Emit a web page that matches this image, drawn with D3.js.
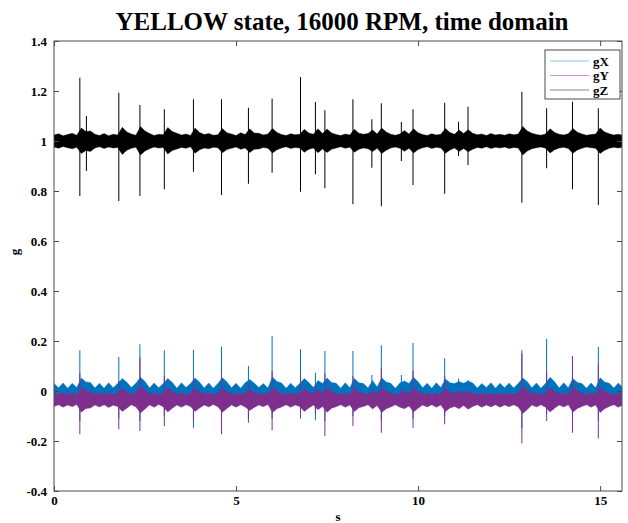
<!DOCTYPE html>
<html>
<head>
<meta charset="utf-8">
<script src="https://cdn.jsdelivr.net/npm/d3@7"></script>
<style>
  html, body { margin: 0; padding: 0; background: #fff; }
  svg { display: block; }
  text { font-family: "Liberation Serif", "Times New Roman", serif; font-weight: bold; fill: #000; }
</style>
</head>
<body>
<svg id="chart" width="628" height="523"></svg>
<script>
// Accelerometer trace, sampled as min/max envelope per 0.125 s bin
const binStep = 0.125;

const gZHigh = [
  1.024,1.029,1.021,1.026,1.031,1.023,1.052,1.038,1.040,1.027,
  1.022,1.030,1.021,1.027,1.024,1.055,1.036,1.028,1.023,1.058,
  1.040,1.030,1.022,1.027,1.025,1.054,1.038,1.031,1.024,1.028,
  1.022,1.052,1.034,1.026,1.030,1.023,1.025,1.050,1.033,1.028,
  1.022,1.033,1.026,1.048,1.032,1.031,1.024,1.028,1.050,1.034,
  1.026,1.022,1.029,1.025,1.027,1.047,1.032,1.027,1.049,1.030,
  1.048,1.032,1.026,1.022,1.028,1.024,1.047,1.031,1.027,1.030,
  1.044,1.028,1.052,1.036,1.027,1.023,1.028,1.042,1.028,1.049,
  1.033,1.026,1.022,1.029,1.024,1.027,1.050,1.034,1.027,1.044,
  1.030,1.045,1.031,1.025,1.028,1.022,1.030,1.024,1.027,1.023,
  1.029,1.025,1.028,1.058,1.040,1.031,1.026,1.023,1.028,1.049,
  1.034,1.027,1.024,1.029,1.050,1.035,1.028,1.023,1.026,1.028,
  1.052,1.036,1.029,1.024,1.027,1.023
];
const gZLow = [
  0.976,0.971,0.978,0.973,0.969,0.975,0.950,0.962,0.958,0.972,
  0.977,0.970,0.976,0.972,0.974,0.946,0.963,0.971,0.975,0.944,
  0.960,0.969,0.976,0.972,0.974,0.948,0.962,0.968,0.974,0.971,
  0.977,0.951,0.965,0.972,0.969,0.975,0.973,0.953,0.966,0.971,
  0.976,0.967,0.972,0.954,0.967,0.968,0.974,0.971,0.952,0.965,
  0.972,0.977,0.970,0.974,0.972,0.955,0.967,0.972,0.953,0.968,
  0.954,0.967,0.972,0.977,0.971,0.975,0.955,0.967,0.972,0.969,
  0.958,0.971,0.950,0.963,0.972,0.976,0.971,0.959,0.971,0.952,
  0.966,0.973,0.977,0.970,0.975,0.972,0.951,0.964,0.972,0.958,
  0.970,0.957,0.967,0.974,0.971,0.977,0.970,0.975,0.972,0.976,
  0.970,0.974,0.972,0.944,0.960,0.969,0.973,0.976,0.971,0.952,
  0.965,0.972,0.975,0.970,0.951,0.964,0.971,0.976,0.973,0.971,
  0.950,0.963,0.971,0.975,0.972,0.976
];
const gXHigh = [
  .030,.013,.032,.011,.031,.014,.052,.036,.034,.012,
  .031,.011,.033,.013,.030,.050,.035,.014,.031,.055,
  .038,.012,.032,.013,.030,.050,.034,.011,.033,.014,
  .030,.052,.035,.012,.032,.011,.030,.053,.036,.013,
  .031,.011,.033,.046,.032,.014,.030,.012,.056,.038,
  .032,.011,.031,.013,.030,.050,.034,.014,.042,.030,
  .052,.034,.031,.011,.033,.013,.050,.033,.030,.012,
  .042,.016,.053,.036,.031,.011,.032,.040,.030,.055,
  .037,.013,.031,.011,.033,.014,.048,.033,.030,.038,
  .031,.040,.032,.012,.030,.014,.033,.011,.031,.013,
  .032,.012,.030,.052,.037,.013,.032,.011,.031,.055,
  .037,.012,.033,.013,.050,.034,.030,.011,.032,.013,
  .053,.036,.031,.012,.032,.013
];
const gXLow = [
  -.018,-.022,-.017,-.021,-.019,-.023,-.040,-.030,-.028,-.020,
  -.018,-.022,-.019,-.021,-.017,-.038,-.028,-.020,-.018,-.042,
  -.030,-.021,-.018,-.022,-.019,-.036,-.028,-.020,-.018,-.023,
  -.019,-.037,-.027,-.020,-.018,-.022,-.019,-.039,-.029,-.021,
  -.018,-.022,-.019,-.034,-.026,-.020,-.018,-.022,-.040,-.030,
  -.019,-.021,-.018,-.022,-.019,-.036,-.027,-.020,-.032,-.024,
  -.038,-.028,-.019,-.022,-.018,-.021,-.036,-.026,-.019,-.022,
  -.030,-.021,-.040,-.030,-.019,-.022,-.018,-.030,-.020,-.039,
  -.029,-.021,-.018,-.022,-.019,-.021,-.036,-.027,-.019,-.030,
  -.021,-.031,-.020,-.018,-.022,-.019,-.021,-.018,-.022,-.019,
  -.021,-.018,-.022,-.042,-.031,-.020,-.018,-.022,-.019,-.038,
  -.029,-.021,-.018,-.022,-.037,-.028,-.020,-.018,-.022,-.019,
  -.039,-.030,-.021,-.018,-.022,-.019
];
const gYHigh = [
  -.010,-.014,-.008,-.013,-.009,-.015,.015,.000,-.004,-.012,
  -.009,-.014,-.008,-.013,-.010,.010,-.004,-.012,-.009,.020,
  .004,-.011,-.009,-.014,-.010,.012,-.002,-.012,-.008,-.014,
  -.010,.010,-.003,-.012,-.009,-.014,-.010,.012,-.002,-.013,
  -.009,-.014,-.008,.006,-.006,-.013,-.009,-.014,.014,.000,
  -.010,-.014,-.009,-.013,-.010,.010,-.004,-.012,.004,-.008,
  .012,-.002,-.010,-.014,-.009,-.013,.010,-.004,-.010,-.014,
  -.002,-.011,.012,.000,-.010,-.014,-.009,.000,-.011,.012,
  -.002,-.012,-.009,-.014,-.010,-.013,.010,-.004,-.010,.000,
  -.012,.002,-.010,-.014,-.009,-.013,-.010,-.014,-.009,-.013,
  -.010,-.014,-.009,.020,.004,-.011,-.009,-.014,-.010,.012,
  -.002,-.012,-.009,-.014,.014,.002,-.010,-.014,-.009,-.013,
  .012,.000,-.010,-.014,-.009,-.013
];
const gYLow = [
  -.062,-.055,-.065,-.056,-.063,-.054,-.085,-.070,-.068,-.056,
  -.064,-.055,-.066,-.057,-.062,-.082,-.069,-.055,-.064,-.088,
  -.072,-.056,-.065,-.054,-.063,-.084,-.069,-.056,-.065,-.055,
  -.062,-.082,-.068,-.056,-.064,-.054,-.063,-.085,-.070,-.056,
  -.065,-.055,-.064,-.078,-.066,-.056,-.063,-.054,-.086,-.071,
  -.064,-.055,-.065,-.056,-.062,-.082,-.068,-.056,-.075,-.062,
  -.085,-.069,-.063,-.055,-.065,-.056,-.082,-.067,-.062,-.055,
  -.072,-.058,-.086,-.071,-.064,-.055,-.065,-.071,-.060,-.084,
  -.069,-.056,-.064,-.055,-.065,-.056,-.082,-.068,-.062,-.071,
  -.058,-.073,-.062,-.055,-.065,-.056,-.064,-.055,-.065,-.056,
  -.063,-.055,-.064,-.090,-.074,-.056,-.064,-.055,-.065,-.084,
  -.069,-.056,-.064,-.055,-.085,-.070,-.062,-.055,-.065,-.056,
  -.086,-.071,-.062,-.055,-.065,-.056
];

// Impact transients: onset time and peak excursions per axis
const spikeTimes = [0.71,0.89,1.78,2.36,3.03,3.83,4.60,5.34,5.99,6.77,7.18,7.44,
                    8.21,8.73,8.99,9.54,9.86,10.73,11.11,11.37,12.85,13.53,14.24,14.95];
const zPeakHigh  = [1.253,1.100,1.193,1.144,1.127,1.167,1.167,1.133,1.170,1.256,1.156,1.123,
                    1.167,1.087,1.151,1.076,1.127,1.153,1.077,1.137,1.197,1.131,1.157,1.131];
const zPeakLow   = [0.780,0.880,0.760,0.780,0.807,0.877,0.784,0.829,0.873,0.797,0.867,0.811,
                    0.747,0.893,0.739,0.920,0.824,0.789,0.940,0.904,0.753,0.891,0.807,0.744];
const xPeakHigh  = [0.163,0.030,0.136,0.187,0.163,0.165,0.177,0.100,0.220,0.167,0.073,0.160,
                    0.160,0.064,0.183,0.064,0.192,0.131,0.050,0.043,0.163,0.209,0.140,0.176];
const xPeakLow   = [-0.120,-0.030,-0.110,-0.120,-0.100,-0.147,-0.120,-0.127,-0.110,-0.090,-0.117,-0.120,
                    -0.100,-0.035,-0.120,-0.030,-0.110,-0.100,-0.030,-0.030,-0.150,-0.090,-0.110,-0.120];
const yPeakHigh  = [0.073,0.000,0.040,0.133,0.060,0.050,0.070,0.030,0.080,0.060,0.020,0.070,
                    0.060,0.010,0.090,0.010,0.080,0.060,0.000,0.000,0.150,0.080,0.140,0.110];
const yPeakLow   = [-0.173,-0.070,-0.153,-0.160,-0.140,-0.120,-0.173,-0.110,-0.157,-0.110,-0.090,-0.180,
                    -0.140,-0.040,-0.167,-0.050,-0.147,-0.133,-0.060,-0.070,-0.210,-0.120,-0.167,-0.190];

const xTicks = [0, 5, 10, 15];
const yTicks = [-0.4, -0.2, 0, 0.2, 0.4, 0.6, 0.8, 1, 1.2, 1.4];
const seriesNames = ["gX", "gY", "gZ"];

// ---- layout ----
const svg = d3.select("#chart");
const plot = { left: 54, right: 622, top: 41, bottom: 491 };

const x = d3.scaleLinear().domain([0, 15.6]).range([plot.left, plot.right]);
const y = d3.scaleLinear().domain([-0.4, 1.4]).range([plot.bottom, plot.top]);

const colors = { gX: "#0072BD", gY: "#7E2F8E", gZ: "#000000" };
const legendColors = { gX: "#8cc4e6", gY: "#d68fdc", gZ: "#8a8a8a" };

svg.append("defs").append("clipPath").attr("id", "plotClip")
  .append("rect")
  .attr("x", plot.left).attr("y", plot.top)
  .attr("width", plot.right - plot.left).attr("height", plot.bottom - plot.top);

const layer = svg.append("g").attr("clip-path", "url(#plotClip)");

function envelope(hi, lo) {
  return hi.map((h, i) => ({ t: i * binStep, hi: h, lo: lo[i] }));
}
const band = d3.area()
  .x(d => x(d.t))
  .y0(d => y(d.lo))
  .y1(d => y(d.hi));

const series = [
  { name: "gX", env: envelope(gXHigh, gXLow), hi: xPeakHigh, lo: xPeakLow },
  { name: "gY", env: envelope(gYHigh, gYLow), hi: yPeakHigh, lo: yPeakLow },
  { name: "gZ", env: envelope(gZHigh, gZLow), hi: zPeakHigh, lo: zPeakLow }
];

series.forEach(s => {
  const g = layer.append("g").attr("class", "trace-" + s.name);
  g.append("path")
    .datum(s.env)
    .attr("d", band)
    .attr("fill", colors[s.name])
    .attr("stroke", colors[s.name])
    .attr("stroke-width", 0.4);
  g.selectAll("line.spike")
    .data(spikeTimes.map((t, i) => ({ t, hi: s.hi[i], lo: s.lo[i] })))
    .join("line")
    .attr("class", "spike")
    .attr("x1", d => x(d.t)).attr("x2", d => x(d.t))
    .attr("y1", d => y(d.hi)).attr("y2", d => y(d.lo))
    .attr("stroke", colors[s.name])
    .attr("stroke-width", 1);
});

// ---- axes box with inward ticks on all four sides ----
const axisColor = "#4a4a4a";
const tickLen = 5;
const axes = svg.append("g");

axes.append("rect")
  .attr("x", plot.left).attr("y", plot.top)
  .attr("width", plot.right - plot.left).attr("height", plot.bottom - plot.top)
  .attr("fill", "none").attr("stroke", axisColor).attr("stroke-width", 1);

const bottomAxis = d3.axisBottom(x).tickValues(xTicks).tickSize(-tickLen).tickPadding(5).tickFormat(d3.format("d"));
const topAxis = d3.axisTop(x).tickValues(xTicks).tickSize(-tickLen).tickFormat("");
const leftAxis = d3.axisLeft(y).tickValues(yTicks).tickSize(-tickLen).tickPadding(7).tickFormat(d => String(+d.toFixed(1)));
const rightAxis = d3.axisRight(y).tickValues(yTicks).tickSize(-tickLen).tickFormat("");

function styleAxis(sel) {
  sel.select(".domain").remove();
  sel.selectAll(".tick line").attr("stroke", axisColor);
  sel.selectAll(".tick text")
    .attr("font-family", "'Liberation Serif', 'Times New Roman', serif")
    .attr("font-weight", "bold")
    .attr("font-size", 13)
    .attr("fill", "#000");
}

axes.append("g").attr("transform", `translate(0,${plot.bottom})`).call(bottomAxis).call(styleAxis);
axes.append("g").attr("transform", `translate(0,${plot.top})`).call(topAxis).call(styleAxis);
axes.append("g").attr("transform", `translate(${plot.left},0)`).call(leftAxis).call(styleAxis);
axes.append("g").attr("transform", `translate(${plot.right},0)`).call(rightAxis).call(styleAxis);

// ---- labels ----
svg.append("text")
  .attr("x", 342).attr("y", 30)
  .attr("text-anchor", "middle")
  .attr("font-size", 25)
  .text("YELLOW state, 16000 RPM, time domain");

svg.append("text")
  .attr("x", 338).attr("y", 521)
  .attr("text-anchor", "middle")
  .attr("font-size", 13)
  .text("s");

svg.append("text")
  .attr("transform", "translate(19,252) rotate(-90)")
  .attr("text-anchor", "middle")
  .attr("font-size", 13)
  .text("g");

// ---- legend ----
const legend = svg.append("g").attr("transform", "translate(545,50)");
legend.append("rect")
  .attr("width", 75).attr("height", 49)
  .attr("fill", "#fff").attr("stroke", axisColor).attr("stroke-width", 1);
seriesNames.forEach((name, i) => {
  const ly = 11 + i * 14.5;
  legend.append("line")
    .attr("x1", 5).attr("x2", 44).attr("y1", ly).attr("y2", ly)
    .attr("stroke", legendColors[name]).attr("stroke-width", 1.2);
  legend.append("text")
    .attr("x", 48).attr("y", ly + 4.5)
    .attr("font-size", 13)
    .text(name);
});
</script>
</body>
</html>
